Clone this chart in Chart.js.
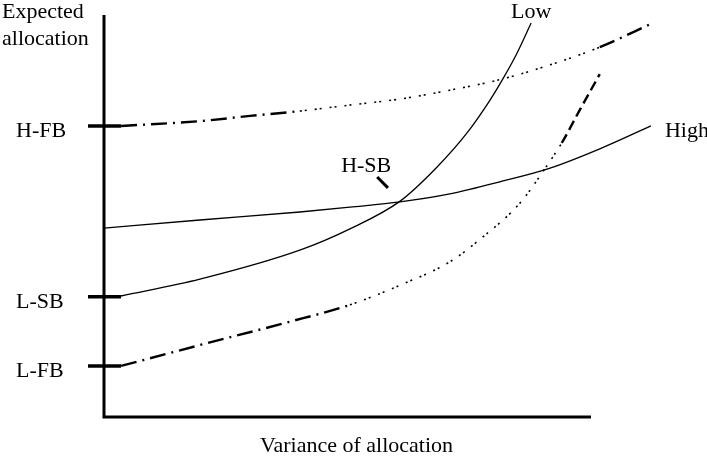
<!DOCTYPE html>
<html>
<head>
<meta charset="utf-8">
<script src="https://cdn.jsdelivr.net/npm/chart.js@4/dist/chart.umd.min.js"></script>
<style>
  html, body { margin: 0; padding: 0; background: #fff; }
  #wrap { width: 707px; height: 456px; position: relative; }
</style>
</head>
<body>
<div id="wrap"><canvas id="c"></canvas></div>
<script>
// ===== Data (axis units 0..100) =====
const highX = [0, 19.7, 40.2, 50.5, 60.8, 71.0, 81.3, 91.6, 101.8, 112.3];
const highY = [47.0, 49.0, 51.0, 52.2, 53.5, 55.5, 58.5, 61.9, 66.7, 72.4];

const lowX = [3.5, 19.7, 40.2, 50.5, 60.8, 68.4, 74.5, 79.3, 81.9, 84.8, 87.7];
const lowY = [30.1, 34.3, 41.5, 46.8, 53.7, 62.2, 70.6, 78.9, 84.1, 90.5, 98.0];

const highFbX = [3.5, 19.7, 30.0, 40.2, 50.5, 60.8, 71.0, 81.9, 91.6, 101.8, 112.3];
const highFbY = [72.4, 73.6, 74.9, 76.1, 77.6, 79.1, 81.3, 84.1, 87.6, 92.0, 97.8];

const lowFbX = [3.5, 19.7, 37.2, 50.5, 60.8, 71.0, 77.8, 85.4, 90.6, 94.0, 97.7, 101.8];
const lowFbY = [12.7, 17.9, 23.4, 27.9, 32.8, 38.6, 44.8, 53.2, 61.9, 68.2, 76.4, 85.3];

// H-SB pointer
const hsbX = [56.1, 58.3];
const hsbY = [59.7, 57.0];

// y-axis tick labels, axis extent
const tickLabels = ["H-FB", "L-SB", "L-FB"];
const tickValues = [72.4, 29.9, 12.7];
const xAxisEnd = 100;
const yAxisEnd = 100;

const FONT = '22px "Liberation Serif", "Times New Roman", serif';

function pts(xs, ys) {
  return xs.map((x, i) => ({ x, y: ys[i] }));
}

const DASH_DOT = [16, 6, 2, 6];
const DOTS = [2, 3, 2, 8];
const DASHES = [10, 5];

// ===== Plugin: axes, ticks, labels =====
const decor = {
  id: "decor",
  afterDraw(chart) {
    const { ctx, scales } = chart;
    const xs = scales.x, ys = scales.y;
    const x0 = xs.getPixelForValue(0), y0 = ys.getPixelForValue(0);
    const xEnd = xs.getPixelForValue(xAxisEnd), yTop = ys.getPixelForValue(yAxisEnd);

    ctx.save();
    ctx.strokeStyle = "#000";
    ctx.lineCap = "butt";

    // axes
    ctx.lineWidth = 3;
    ctx.beginPath();
    ctx.moveTo(x0, yTop);
    ctx.lineTo(x0, y0);
    ctx.lineTo(xEnd, y0);
    ctx.stroke();

    // ticks + labels
    ctx.font = FONT;
    ctx.fillStyle = "#000";
    ctx.textAlign = "left";
    ctx.textBaseline = "alphabetic";
    tickValues.forEach((v, i) => {
      const py = ys.getPixelForValue(v);
      ctx.lineWidth = 3.5;
      ctx.beginPath();
      ctx.moveTo(x0 - 16, py);
      ctx.lineTo(x0 + 17, py);
      ctx.stroke();
      ctx.fillText(tickLabels[i], x0 - 88, py + 11.5);
    });

    // y title
    ctx.fillText("Expected", 2, 18);
    ctx.fillText("allocation", 2, 45);

    // x title
    ctx.textAlign = "center";
    ctx.fillText("Variance of allocation", (x0 + xEnd) / 2 + 9, 452);

    // curve names
    const lowEndX = xs.getPixelForValue(lowX[lowX.length - 1]);
    const lowEndY = ys.getPixelForValue(lowY[lowY.length - 1]);
    ctx.fillText("Low", lowEndX, lowEndY - 5);

    ctx.textAlign = "left";
    const hiEndX = xs.getPixelForValue(highX[highX.length - 1]);
    const hiEndY = ys.getPixelForValue(highY[highY.length - 1]);
    ctx.fillText("High", hiEndX + 14, hiEndY + 11);

    ctx.textAlign = "center";
    const hsbPx = xs.getPixelForValue(hsbX[0]);
    const hsbPy = ys.getPixelForValue(hsbY[0]);
    ctx.fillText("H-SB", hsbPx - 11, hsbPy - 5);

    ctx.restore();
  }
};

new Chart(document.getElementById("c"), {
  type: "line",
  data: {
    datasets: [
      {
        label: "High",
        data: pts(highX, highY),
        borderColor: "#000",
        borderWidth: 1.3,
        cubicInterpolationMode: "monotone",
        pointRadius: 0,
        clip: false,
      },
      {
        label: "Low",
        data: pts(lowX, lowY),
        borderColor: "#000",
        borderWidth: 1.3,
        cubicInterpolationMode: "monotone",
        pointRadius: 0,
        clip: false,
      },
      {
        label: "H-FB",
        data: pts(highFbX, highFbY),
        borderColor: "#000",
        borderWidth: 2,
        cubicInterpolationMode: "monotone",
        pointRadius: 0,
        clip: false,
        segment: {
          borderDash: c => (c.p0.parsed.x < 40 || c.p0.parsed.x >= 101) ? DASH_DOT : DOTS,
          borderWidth: c => (c.p0.parsed.x < 40 || c.p0.parsed.x >= 101) ? 2.4 : 1.6,
        },
      },
      {
        label: "L-FB",
        data: pts(lowFbX, lowFbY),
        borderColor: "#000",
        borderWidth: 2,
        cubicInterpolationMode: "monotone",
        pointRadius: 0,
        clip: false,
        segment: {
          borderDash: c => c.p0.parsed.x < 50 ? DASH_DOT : (c.p0.parsed.x >= 93 ? DASHES : DOTS),
          borderWidth: c => (c.p0.parsed.x < 50 || c.p0.parsed.x >= 93) ? 2.4 : 1.6,
        },
      },
      {
        label: "H-SB",
        data: pts(hsbX, hsbY),
        borderColor: "#000",
        borderWidth: 3,
        pointRadius: 0,
        clip: false,
      },
    ],
  },
  options: {
    responsive: true,
    maintainAspectRatio: false,
    animation: false,
    layout: { padding: { left: 104, right: 47.8, top: 15, bottom: 39 } },
    scales: {
      x: { type: "linear", min: 0, max: 114, display: false },
      y: { type: "linear", min: 0, max: 100, display: false },
    },
    plugins: { legend: { display: false }, tooltip: { enabled: false } },
  },
  plugins: [decor],
});
</script>
</body>
</html>
